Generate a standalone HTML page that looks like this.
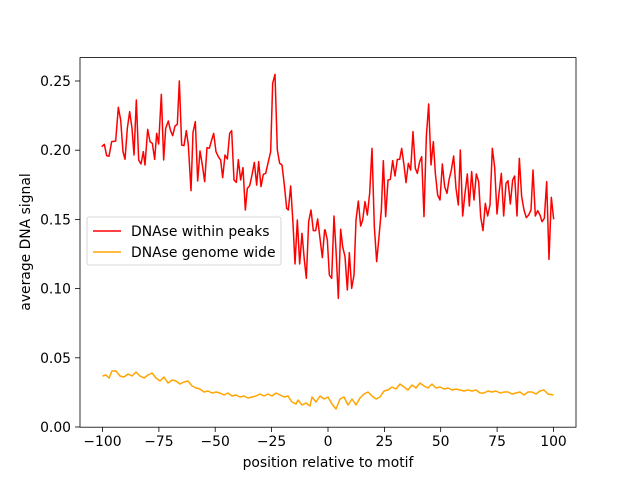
<!DOCTYPE html>
<html><head><meta charset="utf-8"><style>body{margin:0;background:#fff}svg{display:block;font-family:"DejaVu Sans","Liberation Sans",sans-serif}</style></head><body>
<svg width="640" height="480" viewBox="0 0 640 480" xmlns="http://www.w3.org/2000/svg">
<rect width="640" height="480" fill="#fff"/>
<g stroke="red" stroke-width="1.5" fill="none" stroke-linejoin="round">
<polyline vector-effect="non-scaling-stroke" transform="translate(95,65) scale(0.33333)" points="20,245 28,238 35,272 42,274 50,230 62,228 70,127 77,165 84,260 90,283 97,190 104,140 111,190 117,270 124,105 131,285 138,297 145,260 150,300 158,193 165,230 172,235 179,283 185,205 191,237 199,88 206,285 212,190 220,168 226,195 233,212 240,183 247,178 253,48 260,240 267,242 274,197 280,240 288,377 294,202 301,170 308,348 315,258 322,300 329,350 336,248 343,250 350,225 356,205 363,260 370,275 377,285 383,338 390,270 397,282 404,205 410,197 417,345 424,352 430,284 437,345 444,308 451,435 457,370 464,362 471,330 478,292 485,360 491,290 498,365 505,328 512,325 520,290 527,260 533,55 540,28 547,255 554,295 561,300 568,360 575,430 580,435 587,363 594,475 600,597 607,465 614,597 621,505 628,585 634,640 641,470 648,435 655,497 662,497 668,462 675,520 682,578 689,493"/>
<polyline vector-effect="non-scaling-stroke" transform="translate(325,90) scale(0.33333)" points="0,418 7,450 13,555 20,565 27,378 33,480 40,625 47,418 53,470 60,500 67,600 73,488 80,595 87,555 93,390 100,333 107,408 113,390 120,335 127,375 134,310 141,175 148,410 155,515 162,440 169,360 175,212 182,380 189,270 196,268 203,212 210,258 217,208 224,208 230,175 237,225 243,278 250,220 257,240 264,125 271,235 277,250 284,215 290,200 297,380 304,140 311,42 318,225 325,155 331,250 338,315 345,330 352,222 359,290 366,310 372,270 379,240 386,198 393,295 400,345 406,180 413,378 420,310 427,252 433,348 440,245 447,330 454,252 461,275 467,380 474,422 481,340 488,378 495,345 502,175 509,232 516,372 522,310 529,250 536,378 543,280 549,272 556,342 563,270 569,258 576,378 583,205 590,320 597,360 604,383 611,375 618,360 624,240 631,378 638,362 645,375 651,395 658,385 665,275 672,508 679,322 686,388"/>
</g>
<polyline fill="none" stroke="orange" stroke-width="1.5" stroke-linejoin="round" points="102.5,376 106,375 109,378 112,371 116,371 120,376 124,377 128,374 132,376 136,372 140,376 144,378 148,375 152,373 156,378 160,381 164,377 168,383 172,380 176,381 180,384 184,382 188,381 192,386 196,388 200,389 204,392 208,391 212,393 216,392 220,393 224,395 228,393 232,396 236,395 240,397 244,396 248,398 252,397 256,396 260,394 264,396 268,394 272,396 276,393 280,395 284,397 288,396 292,402 296,404 298,400 302,405 306,403 310,406 312,397 316,402 320,396 324,399 328,397 332,404 336,409 340,399 344,397 348,405 352,399 356,405 360,398 364,394 368,392 372,396 376,399 380,397 384,391 388,390 392,387 396,389 400,384 404,387 408,390 412,385 416,388 420,383 424,386 428,388 432,384 436,388 440,387 444,389 448,388 452,390 456,389 460,390 464,391 468,390 472,391 476,390 480,393 484,393 488,391 492,392 496,391 500,393 504,392 508,392 512,394 516,393 520,392 524,395 528,392 532,392 536,394 540,391 544,390 548,394 553.5,395"/>
<rect x="80" y="57.6" width="496" height="369.6" fill="none" stroke="#000" stroke-width="0.8"/>
<g stroke="#000" stroke-width="0.8">
<line x1="102.5" y1="427" x2="102.5" y2="432"/><line x1="158.9" y1="427" x2="158.9" y2="432"/><line x1="215.2" y1="427" x2="215.2" y2="432"/><line x1="271.6" y1="427" x2="271.6" y2="432"/><line x1="328" y1="427" x2="328" y2="432"/><line x1="384.4" y1="427" x2="384.4" y2="432"/><line x1="440.7" y1="427" x2="440.7" y2="432"/><line x1="497.1" y1="427" x2="497.1" y2="432"/><line x1="553.5" y1="427" x2="553.5" y2="432"/>
<line x1="75" y1="427" x2="80" y2="427"/><line x1="75" y1="357.8" x2="80" y2="357.8"/><line x1="75" y1="288.6" x2="80" y2="288.6"/><line x1="75" y1="219.4" x2="80" y2="219.4"/><line x1="75" y1="150.2" x2="80" y2="150.2"/><line x1="75" y1="81" x2="80" y2="81"/>
</g>
<g font-size="13.9" fill="#000" text-anchor="middle">
<text x="102.5" y="446">−100</text><text x="158.9" y="446">−75</text><text x="215.2" y="446">−50</text><text x="271.6" y="446">−25</text><text x="328" y="446">0</text><text x="384.4" y="446">25</text><text x="440.7" y="446">50</text><text x="497.1" y="446">75</text><text x="553.5" y="446">100</text>
</g>
<g font-size="13.9" fill="#000" text-anchor="end">
<text x="71" y="432">0.00</text><text x="71" y="362.8">0.05</text><text x="71" y="293.6">0.10</text><text x="71" y="224.4">0.15</text><text x="71" y="155.2">0.20</text><text x="71" y="86">0.25</text>
</g>
<text x="328" y="467" font-size="13.9" text-anchor="middle">position relative to motif</text>
<text transform="translate(30,242) rotate(-90)" font-size="13.9" text-anchor="middle">average DNA signal</text>
<rect x="87" y="217" width="194" height="48" rx="2" fill="#fff" fill-opacity="0.8" stroke="#ccc" stroke-width="0.8"/>
<line x1="93" y1="231" x2="121" y2="231" stroke="red" stroke-width="1.5"/>
<line x1="93" y1="252" x2="121" y2="252" stroke="orange" stroke-width="1.5"/>
<text x="131" y="236" font-size="13.9">DNAse within peaks</text>
<text x="131" y="257" font-size="13.9">DNAse genome wide</text>
</svg>
</body></html>
